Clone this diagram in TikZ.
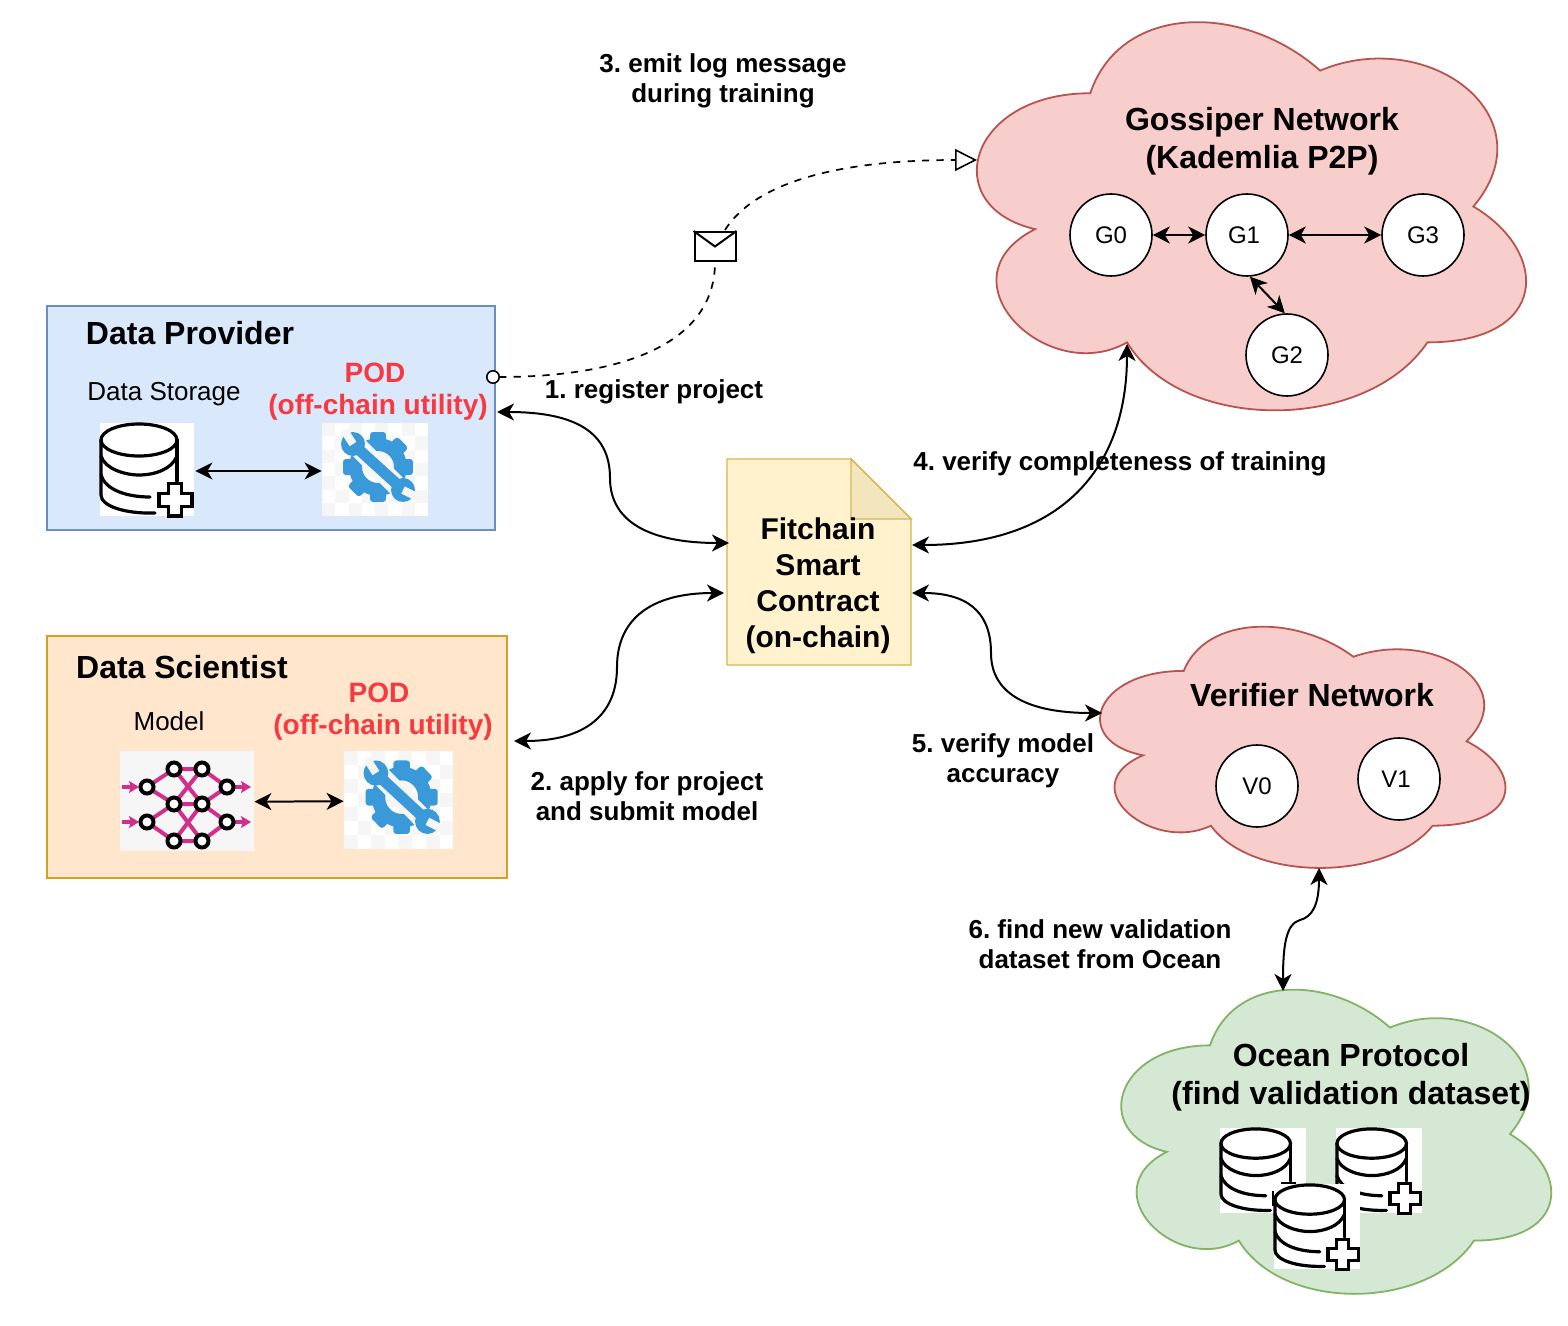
\documentclass[tikz,border=0pt]{standalone}
\usepackage{fontspec}
\setmainfont{Liberation Sans}
\usetikzlibrary{arrows.meta}
\definecolor{providerfill}{HTML}{DAE8FC}
\definecolor{providerline}{HTML}{6C8EBF}
\definecolor{scientistfill}{HTML}{FFE6CC}
\definecolor{scientistline}{HTML}{D6A020}
\definecolor{redfill}{HTML}{F8CECC}
\definecolor{redline}{HTML}{B85450}
\definecolor{greenfill}{HTML}{D5E8D4}
\definecolor{greenline}{HTML}{82B366}
\definecolor{notefill}{HTML}{FFF2CC}
\definecolor{notefold}{HTML}{F3E5BC}
\definecolor{noteline}{HTML}{D6B656}
\definecolor{podred}{HTML}{F53A42}
\definecolor{podblue}{HTML}{3A9AD9}
\definecolor{podgap}{HTML}{F6F6F6}
\definecolor{netpink}{HTML}{D0308C}
\tikzset{
	>={Stealth[length = 8.5pt, width = 8.5pt, inset = 2.5pt]},
	conn/.style = {<->, line width = 1pt},
	mailline/.style = {dash pattern = on 3.6pt off 3.6pt, line width = .85pt},
	title/.style = {font = \fontsize{16pt}{19pt}\bfseries\selectfont, align = center, inner sep = 0pt},
	notelbl/.style = {font = \fontsize{15pt}{18pt}\bfseries\selectfont, align = center, inner sep = 0pt},
	lbl/.style = {font = \fontsize{13pt}{15pt}\bfseries\selectfont, align = center, inner sep = 0pt},
	plainlbl/.style = {font = \fontsize{13pt}{15pt}\selectfont, align = center, inner sep = 0pt},
	podlbl/.style = {font = \fontsize{14pt}{16pt}\bfseries\selectfont, align = center, inner sep = 0pt, text = podred},
	peer/.style = {circle, draw, fill = white, line width = .8pt, minimum size = 41pt, inner sep = 0pt, font = \fontsize{12pt}{14pt}\selectfont},
	iconbox/.style = {inner sep = 0pt, minimum width = #1},
	pics/cloudshape/.style = {code = {
		\draw[line width = .9pt, #1] (.25,.25) .. controls (.05,.25) and (0,.5) .. (.16,.55)
			.. controls (0,.66) and (.18,.9) .. (.31,.8)
			.. controls (.4,1) and (.7,1) .. (.8,.8)
			.. controls (1,.8) and (1,.6) .. (.875,.5)
			.. controls (1,.3) and (.8,.1) .. (.625,.2)
			.. controls (.5,.05) and (.3,.05) .. (.25,.25) -- cycle;
	}},
	pics/dbicon/.style = {code = {
		\fill[white] (0,0) rectangle (94,93);
		\begin{scope}[line width = 1.6pt, line cap = round]
			\draw (39,17) ellipse (38 and 16);
			\draw (1,17)--(1,72) .. controls (1,83) and (25,91) .. (55,90);
			\draw (77,17)--(77,58);
			\draw (1,33) .. controls (5,46) and (25,52) .. (39,52) .. controls (55,52) and (72,46) .. (77,33);
			\draw (1,52) .. controls (5,66) and (25,74) .. (50,74);
			\draw (68.5,60.5)--(81.5,60.5)--(81.5,70.5)--(92,70.5)--(92,83.5)--(81.5,83.5)--(81.5,93)--(68.5,93)--(68.5,83.5)--(59,83.5)--(59,70.5)--(68.5,70.5)--cycle;
		\end{scope}
	}},
	pics/podicon/.style = {code = {
		\fill[white] (0,0) rectangle (106,93);
		\foreach \i in {0,...,7} {
			\foreach \j in {0,...,6} {
				\pgfmathparse{int(mod(\i+\j,2))}
				\ifnum\pgfmathresult=0
					\fill[podgap] (\i*13.25,\j*13.3) rectangle ({(\i+1)*13.25},{(\j+1)*13.3});
				\fi
			}
		}
		\fill[podblue, even odd rule] (56,44) circle (29) (56,44) circle (16);
		\foreach \a in {0,45,...,315} {
			\fill[podblue, rounded corners = 1.5pt, rotate around = {\a:(56,44)}] (48,9) rectangle (64,20);
		}
		\draw[podgap, line width = 10pt] (22,10)--(90,78);
		\draw[podblue, line width = 5.5pt] (34,24)--(78,64);
		\fill[podblue] (31,21) circle (12) (81,67) circle (12);
		\draw[podgap, line width = 4pt] (31,21)--(22,7) (81,67)--(95,74);
	}},
	pics/neticon/.style = {code = {
		\fill[podgap] (0,0) rectangle (134,100);
		\draw[netpink, line width = 2pt]
			(27,36)--(54,18) (27,36)--(54,53) (27,71)--(54,53) (27,71)--(54,90)
			(54,18)--(82,18) (54,53)--(82,53) (54,90)--(82,90)
			(54,18)--(82,53) (54,53)--(82,18) (54,53)--(82,90) (54,90)--(82,53)
			(82,18)--(107,36) (82,53)--(107,36) (82,53)--(107,71) (82,90)--(107,71);
		\draw[netpink, line width = 1.7pt, -{Stealth[length = 5pt, width = 6pt, inset = 1pt]}] (2,36)--(19,36);
		\draw[netpink, line width = 1.7pt, -{Stealth[length = 5pt, width = 6pt, inset = 1pt]}] (2,71)--(19,71);
		\draw[netpink, line width = 1.7pt, -{Stealth[length = 5pt, width = 6pt, inset = 1pt]}] (115,36)--(131,36);
		\draw[netpink, line width = 1.7pt, -{Stealth[length = 5pt, width = 6pt, inset = 1pt]}] (115,71)--(131,71);
		\foreach \p in {(27,36),(27,71),(54,18),(54,53),(54,90),(82,18),(82,53),(82,90),(107,36),(107,71)} {
			\draw[fill = white, line width = 2pt] \p circle (6.5);
		}
	}},
}
\frenchspacing
\begin{document}
\begin{tikzpicture}[x = .5pt, y = -.5pt]
	\useasboundingbox (0,0) rectangle (1568,1326);

	% clouds
	\pic[xscale = 613, yscale = 453] at (937,-20) {cloudshape = {draw = redline, fill = redfill}};
	\pic[xscale = 452.5, yscale = 281.5] at (1070.6,600.5) {cloudshape = {draw = redline, fill = redfill}};
	\pic[xscale = 480, yscale = 355] at (1090,956.6) {cloudshape = {draw = greenline, fill = greenfill}};

	% boxes
	\node (provider) at (271,418) [draw = providerline, fill = providerfill, line width = .9pt, minimum width = 224pt, minimum height = 112pt, inner sep = 0pt] {};
	\node (scientist) at (277,757) [draw = scientistline, fill = scientistfill, line width = .9pt, minimum width = 230pt, minimum height = 121pt, inner sep = 0pt] {};

	% smart contract
	\draw[draw = noteline, fill = notefill, line width = .7pt] (727,459)--(851,459)--(911,519)--(911,665)--(727,665)--cycle;
	\draw[draw = noteline, fill = notefold, line width = .7pt] (851,459)--(851,519)--(911,519)--cycle;
	\node (fitchain) at (818,585.5) [notelbl] {Fitchain\\Smart\\Contract\\(on-chain)};

	% texts
	\node (providertitle) at (190,333) [title] {Data Provider};
	\node (scientisttitle) at (182,667) [title] {Data Scientist};
	\node (storagetext) at (164,394) [plainlbl] {Data Storage};
	\node (modeltext) at (169,721) [plainlbl] {Model};
	\node (podone) at (378,392) [podlbl] {POD\kern3pt\\(off-chain utility)};
	\node (podtwo) at (383,712) [podlbl] {POD\kern4pt\\(off-chain utility)};
	\node (gossipertitle) at (1262,141) [title] {Gossiper Network\\(Kademlia P2P)};
	\node (verifiertitle) at (1312,695) [title] {Verifier Network};
	\node (oceantitle) at (1351,1077) [title] {Ocean Protocol\\(find validation dataset)};

	\node (emitlbl) at (723,81) [lbl] {3. emit log message\\during training};
	\node (registerlbl) at (654,392) [lbl] {1. register project};
	\node (completelbl) at (1120,464) [lbl] {4. verify completeness of training};
	\node (applylbl) at (647,796) [lbl] {2. apply for project\\and submit model};
	\node (accuracylbl) at (1003,761) [lbl] {5. verify model\\accuracy};
	\node (oceanlbl) at (1100,944) [lbl] {6. find new validation\\dataset from Ocean};

	% icons
	\node (storage) at (147,471) [iconbox = 48pt, minimum height = 46.5pt] {};
	\pic at (100,423) {dbicon};
	\node (toolone) at (375,471) [iconbox = 53pt, minimum height = 46.5pt] {};
	\pic at (322,423) {podicon};
	\node (model) at (187,802) [iconbox = 67pt, minimum height = 50pt] {};
	\pic at (120,751) {neticon};
	\node (tooltwo) at (398.5,801) [iconbox = 54.5pt, minimum height = 49pt] {};
	\pic[xscale = 1.03, yscale = 1.05] at (344,751) {podicon};
	\pic[scale = .915] at (1220,1128) {dbicon};
	\pic[scale = .915] at (1336,1128) {dbicon};
	\pic[scale = .915] at (1274,1184) {dbicon};

	% peers
	\node (g0) at (1111,235) [peer] {G0};
	\node (g1) at (1247,235) [peer] {G1\kern3pt};
	\node (g3) at (1423,235) [peer] {G3};
	\node (g2) at (1287,355) [peer] {G2};
	\node (v0) at (1257,786) [peer] {V0};
	\node (v1) at (1399,779) [peer] {V1\kern3pt};

	\draw[conn] (g0)--(g1);
	\draw[conn] (g1)--(g3);
	\draw[conn] (g1.-86)--(g2.93);
	\draw[conn] (storage)--(toolone);
	\draw[conn] (model)--(tooltwo);

	% connector ends
	\coordinate (registerend) at (497,412);
	\coordinate (registernote) at (729,543);
	\coordinate (applyend) at (514,741);
	\coordinate (applynote) at (724,593);
	\coordinate (gossipernote) at (912,545);
	\coordinate (gossiperend) at (1127,344);
	\coordinate (verifiernote) at (912,593);
	\coordinate (verifierend) at (1102,713);
	\coordinate (verifierdown) at (1319,868);
	\coordinate (oceanup) at (1283,991);
	\coordinate (logstart) at (486,377);
	\coordinate (logend) at (977,160);

	\draw[conn] (registerend) .. controls (575,412) and (610,432) .. (610,478) .. controls (610,522) and (650,543) .. (registernote);
	\draw[conn] (applyend) .. controls (585,741) and (617,715) .. (617,667) .. controls (617,620) and (650,593) .. (applynote);
	\draw[conn] (gossipernote) .. controls (1060,545) and (1127,470) .. (gossiperend);
	\draw[conn] (verifiernote) .. controls (965,593) and (991,610) .. (991,653) .. controls (991,695) and (1030,713) .. (verifierend);
	\draw[conn] (verifierdown) .. controls (1319,905) and (1312,917) .. (1300,920) .. controls (1286,924) and (1283,945) .. (oceanup);

	% log message
	\node (mail) at (715,246.5) [draw, fill = white, line width = 1pt, minimum width = 20.5pt, minimum height = 14.5pt, inner sep = 0pt] {};
	\draw[line width = 1pt] (mail.north west)--(mail.center)--(mail.north east);
	\draw[mailline, {Circle[open, fill = white, length = 7pt, width = 7pt, line width = .8pt]}-] (logstart) .. controls (620,377) and (715,345) .. (mail.south);
	\draw[mailline, -{Triangle[open, fill = white, length = 11pt, width = 11pt, line width = .8pt]}] (725,230) .. controls (760,175) and (860,160) .. (logend);
\end{tikzpicture}
\end{document}
